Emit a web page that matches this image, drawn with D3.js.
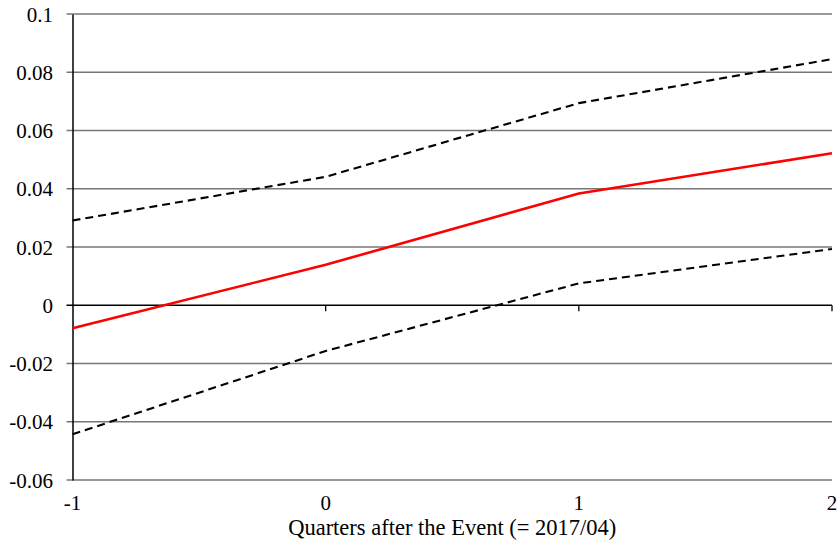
<!DOCTYPE html>
<html>
<head>
<meta charset="utf-8">
<script src="https://cdn.jsdelivr.net/npm/d3@7/dist/d3.min.js"></script>
<style>
  html, body { margin: 0; padding: 0; background: #fff; }
  svg { display: block; }
  text { font-family: "Liberation Serif", "Times New Roman", serif; fill: #000; }
</style>
</head>
<body>
<svg id="chart" width="838" height="554"></svg>
<script>
// Quarters relative to the event
const quarters = [-1, 0, 1, 2];
// Point estimate and confidence bounds
const estimate = [-0.0079, 0.0139, 0.0384, 0.0522];
const upperBound = [0.0291, 0.0441, 0.0694, 0.0845];
const lowerBound = [-0.0443, -0.0157, 0.0075, 0.0193];
// Axis ticks
const yTicks = [0.1, 0.08, 0.06, 0.04, 0.02, 0, -0.02, -0.04, -0.06];
const xTicks = [-1, 0, 1, 2];
const xTitle = "Quarters after the Event (= 2017/04)";

const svg = d3.select("#chart");
const plotLeft = 72.5, plotRight = 832, plotTop = 14, plotBottom = 480;

const x = d3.scaleLinear().domain([-1, 2]).range([plotLeft, plotRight]);
const y = d3.scaleLinear().domain([-0.06, 0.1]).range([plotBottom, plotTop]);

// Horizontal gridlines
svg.append("g")
  .selectAll("line")
  .data(yTicks)
  .join("line")
  .attr("x1", plotLeft - 6)
  .attr("x2", plotRight)
  .attr("y1", d => y(d))
  .attr("y2", d => y(d))
  .attr("stroke", d => d === 0 ? "#000" : "#777")
  .attr("stroke-width", 1.5);

// Y axis
const yAxis = d3.axisLeft(y)
  .tickValues(yTicks)
  .tickSize(0)
  .tickPadding(0)
  .tickFormat(d => String(+d.toFixed(2)));
const gy = svg.append("g").attr("transform", `translate(${plotLeft},0)`).call(yAxis);
gy.select(".domain").attr("stroke", "#000").attr("stroke-width", 1.5);
gy.selectAll("text")
  .attr("x", -19.5)
  .attr("dy", "7px")
  .style("font-size", "21px")
  .attr("fill", "#000");

// X axis ticks at zero line
svg.append("g")
  .selectAll("line")
  .data(xTicks.filter(d => d !== -1))
  .join("line")
  .attr("x1", d => x(d))
  .attr("x2", d => x(d))
  .attr("y1", y(0))
  .attr("y2", y(0) + 6)
  .attr("stroke", "#000")
  .attr("stroke-width", 1.3);

// X tick labels below the plot
svg.append("g")
  .selectAll("text")
  .data(xTicks)
  .join("text")
  .attr("x", d => x(d))
  .attr("y", 510)
  .attr("text-anchor", "middle")
  .style("font-size", "21px")
  .text(d => d);

svg.append("text")
  .attr("x", (plotLeft + plotRight) / 2)
  .attr("y", 535)
  .attr("text-anchor", "middle")
  .style("font-size", "22.5px")
  .text(xTitle);

const line = d3.line().x((d, i) => x(quarters[i])).y(d => y(d));

svg.append("path").datum(upperBound)
  .attr("d", line).attr("fill", "none")
  .attr("stroke", "#000").attr("stroke-width", 2.1)
  .attr("stroke-dasharray", "8,5");

svg.append("path").datum(lowerBound)
  .attr("d", line).attr("fill", "none")
  .attr("stroke", "#000").attr("stroke-width", 2.1)
  .attr("stroke-dasharray", "8,5");

svg.append("path").datum(estimate)
  .attr("d", line).attr("fill", "none")
  .attr("stroke", "#ff0000").attr("stroke-width", 2.6);
</script>
</body>
</html>
